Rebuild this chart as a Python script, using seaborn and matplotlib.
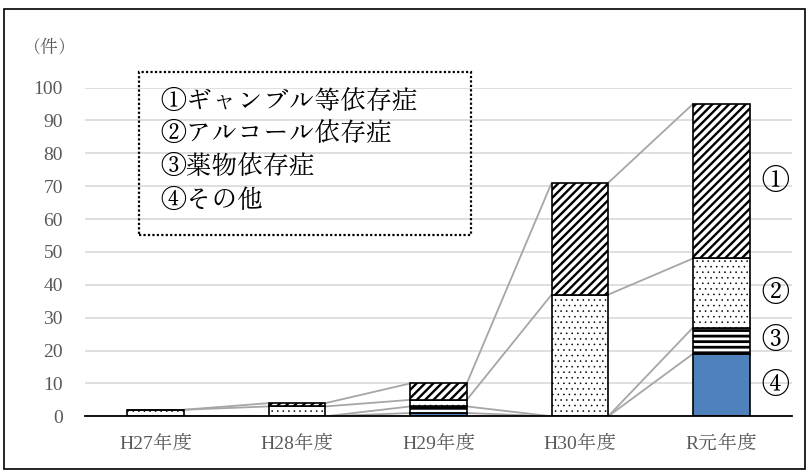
import matplotlib
matplotlib.use("Agg")
import matplotlib.pyplot as plt
import seaborn as sns
import numpy as np
from matplotlib.patches import Rectangle
from matplotlib import font_manager

# ---- data ----
categories = ["H27年度", "H28年度", "H29年度", "H30年度", "R元年度"]
gamble = [0, 1, 5, 34, 47]      # ①ギャンブル等依存症
alcohol = [2, 3, 2, 37, 21]     # ②アルコール依存症
drug = [0, 0, 2, 0, 8]          # ③薬物依存症
other = [0, 0, 1, 0, 19]        # ④その他
legend_labels = ["①ギャンブル等依存症", "②アルコール依存症", "③薬物依存症", "④その他"]
side_labels = ["④", "③", "②", "①"]
yticks = list(range(0, 101, 10))

sns.set_theme(style="white")
names = {f.name for f in font_manager.fontManager.ttflist}
serif = 'Liberation Serif' if 'Liberation Serif' in names else 'DejaVu Serif'
jp = [f for f in ['Zen Old Mincho', 'Noto Sans CJK JP'] if f in names] + ['DejaVu Sans']
mixed = [serif] + jp
plt.rcParams['font.family'] = mixed

W, H = 809, 472
fig = plt.figure(figsize=(W / 100, H / 100), dpi=100)
ax_left, ax_right, ax_top, ax_bot = 85, 792, 87.5, 416.3
ax = fig.add_axes([ax_left / W, 1 - ax_bot / H, (ax_right - ax_left) / W, (ax_bot - ax_top) / H])

width = 0.4
series = [
    (other, None, '#4F81BD', 0.8),
    (drug, '---', 'white', 2.0),
    (alcohol, '...', 'white', 0.4),
    (gamble, '////', 'white', 1.7),
]
bottom = np.zeros(len(categories))
tops = []
mids = []
for vals, hatch, color, hlw in series:
    with plt.rc_context({'hatch.linewidth': hlw, 'hatch.color': 'black'}):
        n0 = len(ax.patches)
        sns.barplot(x=categories, y=vals, bottom=bottom, width=width, color=color,
                    edgecolor='black', linewidth=1.2, hatch=hatch, errorbar=None,
                    saturation=1, ax=ax, zorder=3)
        for p in ax.patches[n0:]:
            if hasattr(p, 'set_hatch_linewidth'):
                p.set_hatch_linewidth(hlw)
    mids.append(bottom[-1] + vals[-1] / 2)
    bottom = bottom + np.array(vals)
    tops.append(bottom.copy())

# series lines
xs = np.arange(len(categories))
for t in tops:
    for i in range(len(categories) - 1):
        ax.plot([xs[i] + width / 2, xs[i + 1] - width / 2], [t[i], t[i + 1]],
                color='#A6A6A6', lw=1.3, zorder=2, solid_capstyle='butt')

ax.set_xlim(-0.5, len(categories) - 0.5)
ax.set_ylim(0, 100)
ax.set_yticks(yticks)
ax.set_yticklabels([str(v) for v in yticks], family=mixed)
ax.set_xticks(xs)
ax.set_xticklabels(categories, family=mixed)
ax.yaxis.grid(True, color='#D9D9D9', lw=1.2, zorder=0)
ax.set_axisbelow(True)
for s in ['left', 'right', 'top']:
    ax.spines[s].set_visible(False)
ax.spines['bottom'].set_color('black')
ax.spines['bottom'].set_linewidth(1.3)
ax.spines['bottom'].set_zorder(4)
ax.tick_params(axis='y', length=0, labelsize=14, labelcolor='#595959', pad=16)
ax.tick_params(axis='x', length=0, labelsize=14, labelcolor='#595959', pad=14)
ax.set_xlabel("")
ax.set_ylabel("")

# side labels next to last bar
for lab, m in zip(side_labels, mids):
    ax.text(4.38, m, lab, ha='center', va='center', fontsize=20,
            family=jp, color='black', zorder=5)

# unit label
fig.text(50 / W, 1 - 47 / H, "（件）", ha='center', va='center', fontsize=13,
         family=jp, color='#595959')

# legend text box
x0, y0, x1, y1 = 139, 72, 471, 235
fig.add_artist(Rectangle((x0 / W, 1 - y1 / H), (x1 - x0) / W, (y1 - y0) / H,
                         transform=fig.transFigure, fill=False, edgecolor='black',
                         lw=1.6, linestyle=(0, (1, 1))))
rows_y = [101.7, 133.7, 166.7, 200.0]
for lab, ry in zip(legend_labels, rows_y):
    fig.text(160 / W, 1 - ry / H, lab, ha='left', va='center', fontsize=18.5,
             family=jp, color='black')

# outer border
fig.add_artist(Rectangle((4 / W, 1 - 469 / H), (805 - 4) / W, (469 - 9) / H,
                         transform=fig.transFigure, fill=False, edgecolor='black', lw=1.2))

fig.savefig("out.png", dpi=100)
